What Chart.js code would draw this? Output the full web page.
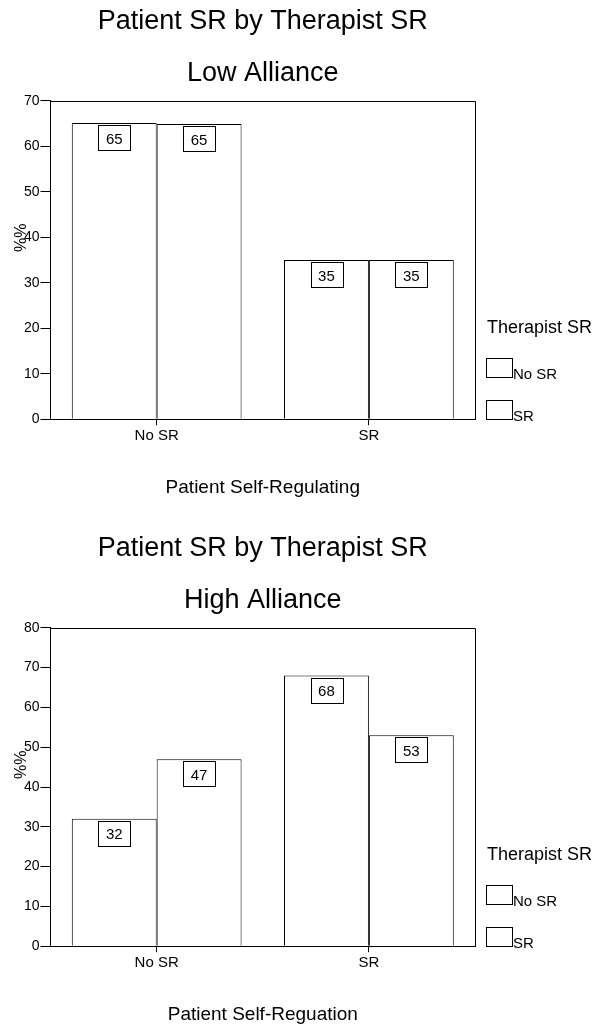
<!DOCTYPE html>
<html>
<head>
<meta charset="utf-8">
<script src="https://cdn.jsdelivr.net/npm/chart.js@4"></script>
<style>
  body { margin: 0; background: #fff; overflow: hidden; }
  .box { width: 600px; height: 527px; }
</style>
</head>
<body>
<div class="box"><canvas id="lowChart" width="600" height="527"></canvas></div>
<div class="box"><canvas id="highChart" width="600" height="527"></canvas></div>
<script>
const categories = ['No SR', 'SR'];
const seriesLabels = ['No SR', 'SR'];

// Low alliance (%)
const lowTherapistNoSR = [65.1, 35];
const lowTherapistSR = [64.9, 35];
const lowYMax = 70;

// High alliance (%)
const highTherapistNoSR = [32, 68];
const highTherapistSR = [47, 53];
const highYMax = 80;

const yStep = 10;
const fontFamily = "'Liberation Sans', Arial, Helvetica, sans-serif";
const ink = '#000';

Chart.defaults.font.family = fontFamily;
Chart.defaults.color = ink;

// value labels in little boxes just under the top of each bar
const valueBoxes = {
    id: 'valueBoxes',
    afterDatasetsDraw(chart) {
        const ctx = chart.ctx;
        ctx.save();
        ctx.font = `15px ${fontFamily}`;
        ctx.textAlign = 'center';
        ctx.textBaseline = 'middle';
        chart.data.datasets.forEach((ds, i) => {
            chart.getDatasetMeta(i).data.forEach((bar, j) => {
                const txt = String(Math.round(ds.data[j]));
                const w = ctx.measureText(txt).width + 15;
                const h = 25;
                const top = bar.y + 2;
                ctx.fillStyle = '#fff';
                ctx.fillRect(bar.x - w / 2, top, w, h);
                ctx.strokeStyle = ink;
                ctx.lineWidth = 1;
                ctx.strokeRect(Math.round(bar.x - w / 2) + 0.5, Math.round(top) + 0.5, Math.round(w), h);
                ctx.fillStyle = ink;
                ctx.fillText(txt, bar.x, top + h / 2 + 2);
            });
        });
        ctx.restore();
    }
};

// top + right frame, y title, and the legend on the right
const frameAndLegend = {
    id: 'frameAndLegend',
    afterDraw(chart) {
        const { ctx, chartArea: a } = chart;
        ctx.save();
        ctx.strokeStyle = ink;
        ctx.lineWidth = 1;
        ctx.beginPath();
        ctx.moveTo(a.left, Math.round(a.top) + 0.5);
        ctx.lineTo(Math.round(a.right) + 0.5, Math.round(a.top) + 0.5);
        ctx.lineTo(Math.round(a.right) + 0.5, a.bottom);
        ctx.stroke();

        // y axis title, sits over the tick labels like the original
        ctx.fillStyle = ink;
        ctx.font = `16px ${fontFamily}`;
        ctx.textAlign = 'center';
        ctx.textBaseline = 'middle';
        ctx.translate(22, a.top + (a.bottom - a.top) * 0.43);
        ctx.rotate(-Math.PI / 2);
        ctx.fillText('%%', 0, 0);
        ctx.restore();

        ctx.save();
        const lx = a.right + 11;
        ctx.fillStyle = ink;
        ctx.textAlign = 'left';
        ctx.textBaseline = 'middle';
        ctx.font = `18px ${fontFamily}`;
        ctx.fillText('Therapist SR', lx + 1, a.bottom - 91);
        ctx.font = `15px ${fontFamily}`;
        ctx.textBaseline = 'alphabetic';
        chart.data.datasets.forEach((ds, i) => {
            const bottom = a.bottom - (chart.data.datasets.length - 1 - i) * 42;
            ctx.fillStyle = ds.backgroundColor;
            ctx.fillRect(lx, bottom - 19, 26, 19);
            ctx.strokeStyle = ds.borderColor;
            ctx.strokeRect(Math.round(lx) + 0.5, Math.round(bottom - 19) + 0.5, 26, 19);
            ctx.fillStyle = ink;
            ctx.fillText(ds.label, lx + 27, bottom + 2);
        });
        ctx.restore();
    }
};

function makeChart(id, subtitle, xTitle, noSR, sr, yMax) {
    return new Chart(document.getElementById(id), {
        type: 'bar',
        data: {
            labels: categories,
            datasets: [
                { label: seriesLabels[0], data: noSR, backgroundColor: '#fff', borderColor: ink, borderWidth: 1 },
                { label: seriesLabels[1], data: sr, backgroundColor: '#fff', borderColor: ink, borderWidth: 1 }
            ]
        },
        options: {
            responsive: false,
            animation: false,
            datasets: { bar: { barPercentage: 1, categoryPercentage: 0.8 } },
            layout: { padding: { top: 0, left: 23, right: 125, bottom: 28 } },
            plugins: {
                legend: { display: false },
                tooltip: { enabled: false },
                title: {
                    display: true,
                    text: 'Patient SR by Therapist SR',
                    fullSize: false,
                    font: { size: 27, weight: 'normal' },
                    color: ink,
                    padding: { top: 5, bottom: 10 }
                },
                subtitle: {
                    display: true,
                    text: subtitle,
                    fullSize: false,
                    font: { size: 27, weight: 'normal' },
                    color: ink,
                    padding: { top: 10, bottom: 11 }
                }
            },
            scales: {
                x: {
                    grid: { display: true, drawOnChartArea: false, offset: false, tickLength: 6, color: ink },
                    border: { display: true, color: ink, width: 1 },
                    ticks: { font: { size: 15 }, color: ink, padding: 2 },
                    title: {
                        display: true,
                        text: xTitle,
                        font: { size: 19 },
                        color: ink,
                        padding: { top: 29, bottom: 0 }
                    }
                },
                y: {
                    min: 0,
                    max: yMax,
                    grid: { display: true, drawOnChartArea: false, tickLength: 10, color: ink },
                    border: { display: true, color: ink, width: 1 },
                    ticks: { stepSize: yStep, font: { size: 14 }, color: ink, padding: 1 }
                }
            }
        },
        plugins: [valueBoxes, frameAndLegend]
    });
}

makeChart('lowChart', 'Low Alliance', 'Patient Self-Regulating', lowTherapistNoSR, lowTherapistSR, lowYMax);
makeChart('highChart', 'High Alliance', 'Patient Self-Reguation', highTherapistNoSR, highTherapistSR, highYMax);
</script>
</body>
</html>
